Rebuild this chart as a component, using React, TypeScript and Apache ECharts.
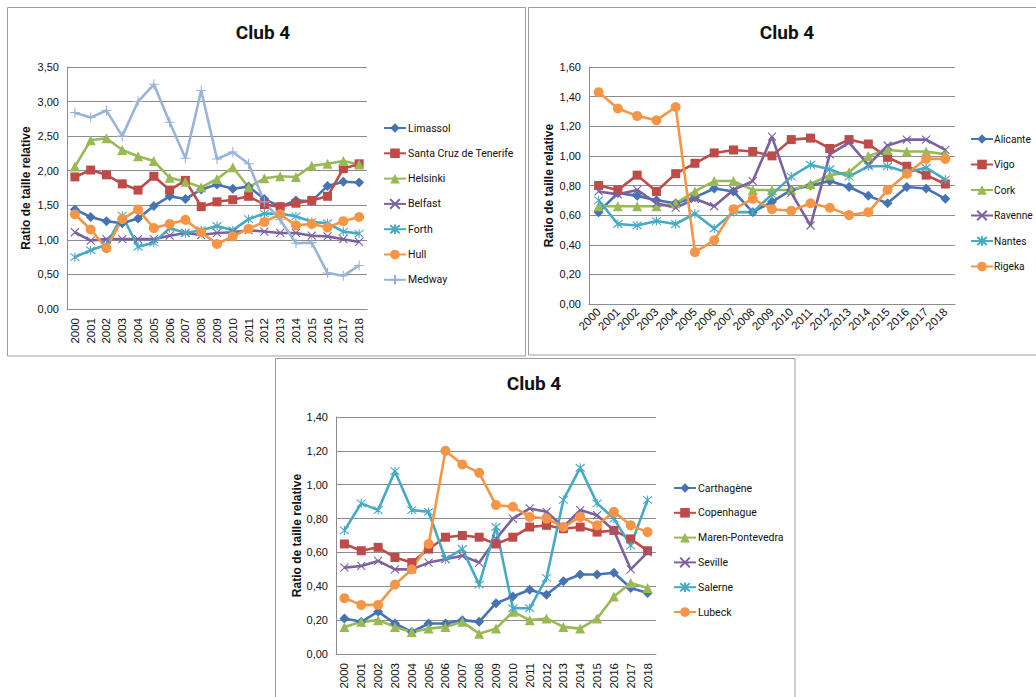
import React, { useEffect, useRef } from "react";
import * as echarts from "echarts";

const years = ["2000","2001","2002","2003","2004","2005","2006","2007","2008","2009","2010","2011","2012","2013","2014","2015","2016","2017","2018"];

// Panel 1
const p1Names = ["Limassol", "Santa Cruz de Tenerife", "Helsinki", "Belfast", "Forth", "Hull", "Medway"];
const limassol = [1.44,1.33,1.27,1.24,1.31,1.49,1.63,1.59,1.73,1.80,1.74,1.77,1.59,1.48,1.57,1.56,1.78,1.84,1.83];
const santaCruz = [1.91,2.01,1.94,1.81,1.72,1.92,1.72,1.86,1.48,1.55,1.58,1.63,1.51,1.48,1.53,1.57,1.63,2.03,2.10];
const helsinki = [2.06,2.44,2.47,2.30,2.21,2.14,1.90,1.84,1.76,1.88,2.05,1.76,1.89,1.92,1.91,2.07,2.10,2.14,2.09];
const belfast = [1.11,0.99,1.01,1.01,1.01,1.01,1.06,1.10,1.07,1.10,1.11,1.14,1.12,1.10,1.10,1.06,1.05,1.01,0.97];
const forth = [0.75,0.85,0.93,1.35,0.90,0.96,1.17,1.10,1.14,1.20,1.14,1.30,1.38,1.38,1.34,1.26,1.24,1.12,1.09];
const hull = [1.37,1.15,0.88,1.30,1.44,1.17,1.23,1.29,1.11,0.94,1.05,1.16,1.26,1.37,1.21,1.23,1.18,1.27,1.33];
const medway = [2.84,2.77,2.87,2.50,3.00,3.25,2.70,2.18,3.16,2.17,2.27,2.10,1.55,1.29,0.95,0.96,0.52,0.48,0.63];

// Panel 2
const p2Names = ["Alicante", "Vigo", "Cork", "Ravenne", "Nantes", "Rigeka"];
const alicante = [0.62,0.75,0.73,0.70,0.68,0.72,0.78,0.76,0.62,0.69,0.77,0.80,0.83,0.79,0.73,0.68,0.79,0.78,0.71];
const vigo = [0.80,0.77,0.87,0.76,0.88,0.95,1.02,1.04,1.03,1.00,1.11,1.12,1.05,1.11,1.08,0.99,0.93,0.87,0.81];
const cork = [0.66,0.66,0.66,0.66,0.68,0.76,0.83,0.83,0.77,0.77,0.77,0.81,0.87,0.89,1.00,1.04,1.03,1.03,1.01];
const ravenne = [0.76,0.74,0.77,0.68,0.65,0.71,0.66,0.77,0.83,1.13,0.75,0.53,1.01,1.09,0.94,1.07,1.11,1.11,1.04];
const nantes = [0.70,0.54,0.53,0.56,0.54,0.61,0.51,0.62,0.62,0.74,0.86,0.94,0.91,0.86,0.93,0.93,0.89,0.92,0.84];
const rigeka = [1.43,1.32,1.27,1.24,1.33,0.35,0.43,0.64,0.71,0.64,0.63,0.68,0.65,0.60,0.62,0.77,0.88,0.98,0.98];

// Panel 3
const p3Names = ["Carthagène", "Copenhague", "Maren-Pontevedra", "Seville", "Salerne", "Lubeck"];
const carthagene = [0.21,0.19,0.25,0.18,0.13,0.18,0.18,0.20,0.19,0.30,0.34,0.38,0.35,0.43,0.47,0.47,0.48,0.39,0.36];
const copenhague = [0.65,0.61,0.63,0.57,0.54,0.62,0.69,0.70,0.69,0.65,0.69,0.75,0.76,0.74,0.75,0.72,0.73,0.68,0.61];
const maren = [0.16,0.19,0.20,0.16,0.13,0.15,0.16,0.19,0.12,0.15,0.25,0.20,0.21,0.16,0.15,0.21,0.34,0.42,0.39];
const seville = [0.51,0.52,0.55,0.50,0.50,0.54,0.56,0.58,0.54,0.68,0.80,0.86,0.84,0.75,0.85,0.82,0.73,0.50,0.60];
const salerne = [0.73,0.89,0.85,1.08,0.85,0.84,0.56,0.62,0.41,0.75,0.27,0.27,0.45,0.91,1.10,0.89,0.80,0.64,0.91];
const lubeck = [0.33,0.29,0.29,0.41,0.50,0.65,1.20,1.12,1.07,0.88,0.87,0.81,0.80,0.75,0.81,0.76,0.84,0.76,0.72];

const titleText = "Club 4";
const yName = "Ratio de taille relative";

const colors = ["#4674B2", "#BE4B48", "#98B954", "#7D60A0", "#46AAC5", "#F69546", "#98B4D9"];
const xPath = "path://M0,0L10,10M10,0L0,10";
const starPath = "path://M0,0L10,10M10,0L0,10M5,-1L5,11";
const plusPath = "path://M5,0L5,10M0,5L10,5";
const symbols = ["diamond", "rect", "triangle", xPath, starPath, "circle", plusPath];
const symbolSizes = [10, 9, 10, 8, 9, 10, 10];

const ROBOTO = "Roboto, 'Liberation Sans', Arial, sans-serif";
const SANS = "'Liberation Sans', Arial, sans-serif";
const GRIDC = "#8c8c8c";

function fmt(v: number) {
  return v.toFixed(2).replace(".", ",");
}

function makeSeries(name: string, data: number[], k: number, axis: number) {
  const isPath = k === 3 || k === 4 || k === 6;
  return {
    type: "line",
    name,
    data,
    xAxisIndex: axis,
    yAxisIndex: axis,
    symbol: symbols[k],
    symbolSize: symbolSizes[k],
    showSymbol: true,
    lineStyle: { color: colors[k], width: 2.6 },
    itemStyle: isPath
      ? { color: colors[k], borderColor: colors[k], borderWidth: 1.1 }
      : { color: colors[k], borderWidth: 0 },
    emphasis: { disabled: true },
  };
}

export default function App() {
  const ref = useRef<HTMLDivElement>(null);
  useEffect(() => {
    if (!ref.current) return;
    const chart = echarts.init(ref.current, undefined, { renderer: "svg" });

    const grids = [
      { left: 67, top: 67, width: 300, height: 242 },
      { left: 589, top: 67, width: 366, height: 237 },
      { left: 336, top: 417, width: 320, height: 237 },
    ];
    const maxes = [3.5, 1.6, 1.4];
    const intervals = [0.5, 0.2, 0.2];
    const rotates = [90, 45, 90];
    const nameGaps = [35, 34, 33];

    const xAxes = grids.map((_, i) => ({
      type: "category",
      gridIndex: i,
      data: years,
      boundaryGap: true,
      axisLine: { show: true, lineStyle: { color: GRIDC, width: 1 } },
      axisTick: { show: false },
      axisLabel: {
        rotate: rotates[i],
        interval: 0,
        margin: i === 1 ? 6 : 9,
        fontSize: 11.5,
        fontFamily: SANS,
        color: "#111",
      },
      splitLine: { show: false },
    }));

    const yAxes = grids.map((_, i) => ({
      type: "value",
      gridIndex: i,
      min: 0,
      max: maxes[i],
      interval: intervals[i],
      name: yName,
      nameLocation: "middle",
      nameRotate: 90,
      nameGap: nameGaps[i],
      nameTextStyle: { fontFamily: SANS, fontWeight: "bold", fontSize: 12, color: "#111" },
      axisLine: { show: true, lineStyle: { color: GRIDC, width: 1 } },
      axisTick: { show: false },
      axisLabel: {
        formatter: (v: number) => fmt(v),
        fontSize: 11,
        fontFamily: SANS,
        color: "#111",
        margin: 8,
      },
      splitLine: { show: true, lineStyle: { color: GRIDC, width: 1 } },
    }));

    const p1Data = [limassol, santaCruz, helsinki, belfast, forth, hull, medway];
    const p2Data = [alicante, vigo, cork, ravenne, nantes, rigeka];
    const p3Data = [carthagene, copenhague, maren, seville, salerne, lubeck];

    const series: any[] = [];
    p1Names.forEach((n, k) => series.push(makeSeries(n, p1Data[k], k, 0)));
    p2Names.forEach((n, k) => series.push(makeSeries(n, p2Data[k], k, 1)));
    p3Names.forEach((n, k) => series.push(makeSeries(n, p3Data[k], k, 2)));

    const legendBase = {
      orient: "vertical",
      itemWidth: 22,
      itemHeight: 12,
      padding: 0,
      selectedMode: false,
      textStyle: { fontFamily: ROBOTO, fontSize: 10.5, lineHeight: 12, color: "#111", padding: [0, 0, 0, -3] },
    };

    const titles = [
      { cx: 263, top: 23 },
      { cx: 787, top: 23 },
      { cx: 534, top: 374 },
    ].map((t) => ({
      text: titleText,
      left: t.cx,
      top: t.top,
      textAlign: "center",
      padding: 0,
      textStyle: { fontFamily: ROBOTO, fontWeight: "bold", fontSize: 19, color: "#111" },
    }));

    const option: any = {
      animation: false,
      backgroundColor: "#ffffff",
      title: titles,
      grid: grids.map((g) => ({ ...g, containLabel: false })),
      xAxis: xAxes,
      yAxis: yAxes,
      legend: [
        { ...legendBase, data: p1Names, left: 383, top: 122, itemGap: 13.3 },
        {
          ...legendBase,
          data: p2Names,
          left: 970,
          top: 133,
          itemGap: 13.5,
          textStyle: { ...legendBase.textStyle, fontSize: 10.2, padding: [0, 0, 0, -4] },
        },
        { ...legendBase, data: p3Names, left: 673, top: 482, itemGap: 12.8 },
      ],
      series,
      graphic: [
        { type: "rect", shape: { x: 7.5, y: 7.5, width: 518, height: 348.5 }, style: { fill: "none", stroke: "#9c9c9c", lineWidth: 1 }, z: -1 },
        { type: "rect", shape: { x: 528.5, y: 7.5, width: 520, height: 347.5 }, style: { fill: "none", stroke: "#9c9c9c", lineWidth: 1 }, z: -1 },
        { type: "rect", shape: { x: 275.5, y: 358.5, width: 519.5, height: 350 }, style: { fill: "none", stroke: "#9c9c9c", lineWidth: 1 }, z: -1 },
      ],
    };

    chart.setOption(option);
    return () => chart.dispose();
  }, []);

  return (
    <div
      ref={ref}
      style={{ position: "fixed", left: 0, top: 0, width: 1036, height: 697, background: "#fff" }}
    />
  );
}
